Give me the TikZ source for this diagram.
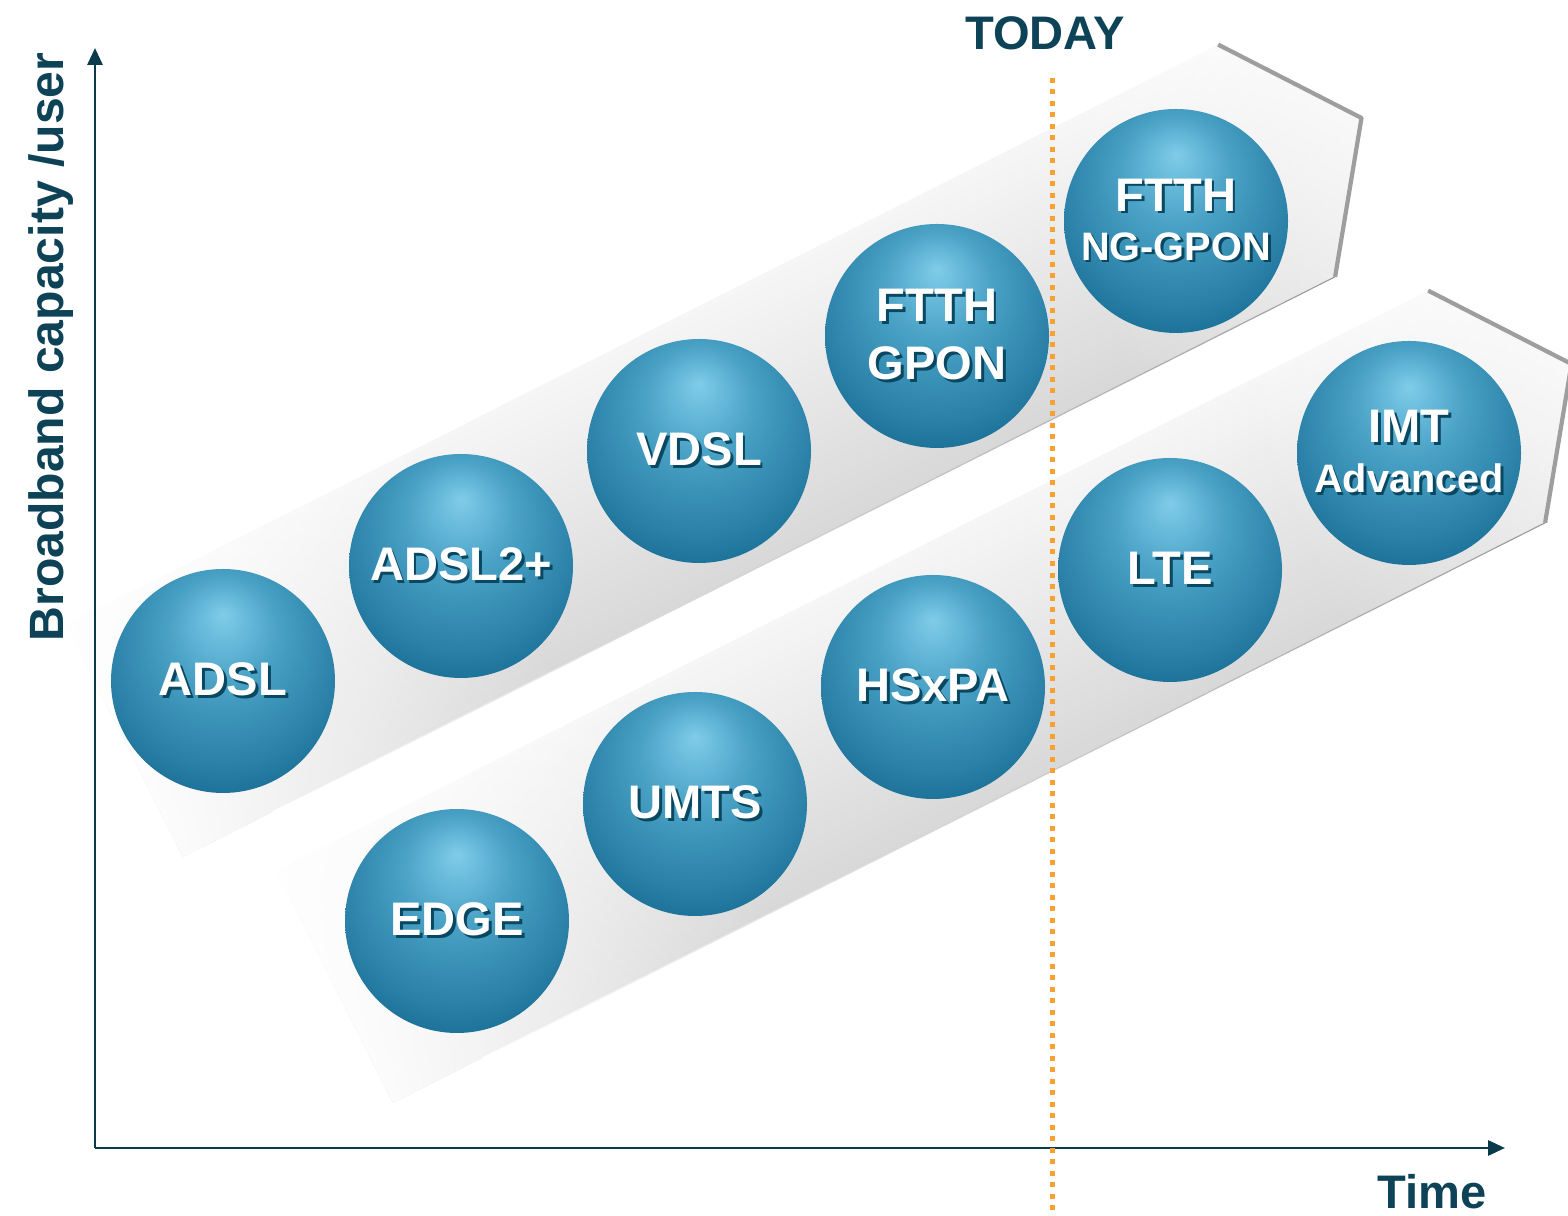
\documentclass[tikz,border=0pt]{standalone}
\usepackage{fontspec}
\setmainfont{Liberation Sans}
\usetikzlibrary{arrows.meta,fadings}

\definecolor{axisteal}{HTML}{0B3A4C}
\definecolor{labelteal}{HTML}{0D4257}
\definecolor{todayorange}{HTML}{F7A133}
\definecolor{ballhi}{HTML}{7FCCE9}
\definecolor{ballmid}{HTML}{4AA2C6}
\definecolor{ballrim}{HTML}{2A80A7}
\definecolor{balldark}{HTML}{03597D}
\definecolor{textshade}{HTML}{0A4761}
\definecolor{bandlight}{HTML}{F6F6F6}
\definecolor{banddark}{HTML}{D8D8D8}
\definecolor{bandedge}{HTML}{9E9E9E}

\pgfdeclareradialshading{techball}{\pgfpoint{0bp}{15bp}}{color(0bp)=(ballhi); color(12bp)=(ballmid); color(26bp)=(ballrim); color(40bp)=(balldark); color(50bp)=(balldark)}
\tikzfading[name=fade right, left color=transparent!8, right color=transparent!100]
\tikzfading[name=fade left, left color=transparent!100, right color=transparent!25]

\newcommand{\shadowed}[1]{\rlap{\hspace{0.8pt}\raisebox{-0.8pt}{\color{textshade}#1}}#1}
\newcommand{\smalltech}{\fontsize{11.3}{13}\selectfont}

\tikzset{
  tech/.style={circle,inner sep=0pt,minimum size=2.24cm,shading=techball,text=white,align=center,font=\bfseries\fontsize{13.4}{16.5}\selectfont},
  axisline/.style={draw=axisteal,line width=0.85pt,-{Triangle[length=0.17cm,width=0.15cm]}},
  todayline/.style={draw=todayorange,line width=0.05cm,dash pattern=on 0.05cm off 0.065cm},
  axislabel/.style={text=labelteal,inner sep=0pt,font=\bfseries\fontsize{13.4}{16}\selectfont}
}

\begin{document}
\begin{tikzpicture}
\useasboundingbox (0,0) rectangle (15.68,12.16);

% the two slanted bands
\foreach \bx/\by in {1.83/3.59, 3.93/1.13}{
  \begin{scope}[transform canvas={shift={(\bx,\by)},rotate=26.73}]
    \shade[top color=bandlight,bottom color=banddark] (0,0) -- (12.9,0) -- (13.85,1.3) -- (12.9,2.6) -- (0,2.6) -- cycle;
    \fill[white,path fading=fade right] (0,0) rectangle (4.2,2.6);
    \fill[white,path fading=fade left] (10.6,0) -- (12.9,0) -- (13.85,1.3) -- (12.9,2.6) -- (10.6,2.6) -- cycle;
    \shade[left color=white,right color=bandedge] (1,-0.006) rectangle (12.9,0.006);
    \draw[bandedge,line width=1.2pt,line join=bevel] (12.9,2.6) -- (13.85,1.3) -- (12.9,0);
  \end{scope}
}

% axes
\coordinate (origin) at (0.95,0.68);
\coordinate (ytip) at (0.95,11.68);
\coordinate (xtip) at (15.05,0.68);
\draw[axisline] (origin) -- (ytip);
\draw[axisline] (origin) -- (xtip);
\node[axislabel,rotate=90,font=\bfseries\fontsize{13.7}{16}\selectfont] (ylabel) at (0.51,8.69) {Broadband capacity /user};
\node[axislabel] (xlabel) at (14.32,0.24) {Time};

% today marker
\node[axislabel] (today) at (10.45,11.83) {TODAY};
\coordinate (todaytop) at (10.52,11.38);
\coordinate (todaybot) at (10.52,0);
\draw[todayline] (todaytop) -- (todaybot);

% fixed line technologies
\node[tech] (adsl) at (2.23,5.35) {\shadowed{ADSL}};
\node[tech] (adslplus) at (4.61,6.50) {\shadowed{ADSL2+}};
\node[tech] (vdsl) at (6.99,7.65) {\shadowed{VDSL}};
\node[tech] (gpon) at (9.37,8.80) {\shadowed{FTTH}\\\shadowed{GPON}};
\node[tech] (nggpon) at (11.76,9.95) {\shadowed{FTTH}\\[-2.6pt]{\smalltech\shadowed{NG-GPON}}};

% mobile technologies
\node[tech] (edge) at (4.57,2.95) {\shadowed{EDGE}};
\node[tech] (umts) at (6.95,4.12) {\shadowed{UMTS}};
\node[tech] (hsxpa) at (9.33,5.29) {\shadowed{HSxPA}};
\node[tech] (lte) at (11.70,6.46) {\shadowed{LTE}};
\node[tech] (imt) at (14.09,7.63) {\shadowed{IMT}\\[-2.3pt]{\smalltech\shadowed{Advanced}}};
\end{tikzpicture}
\end{document}
